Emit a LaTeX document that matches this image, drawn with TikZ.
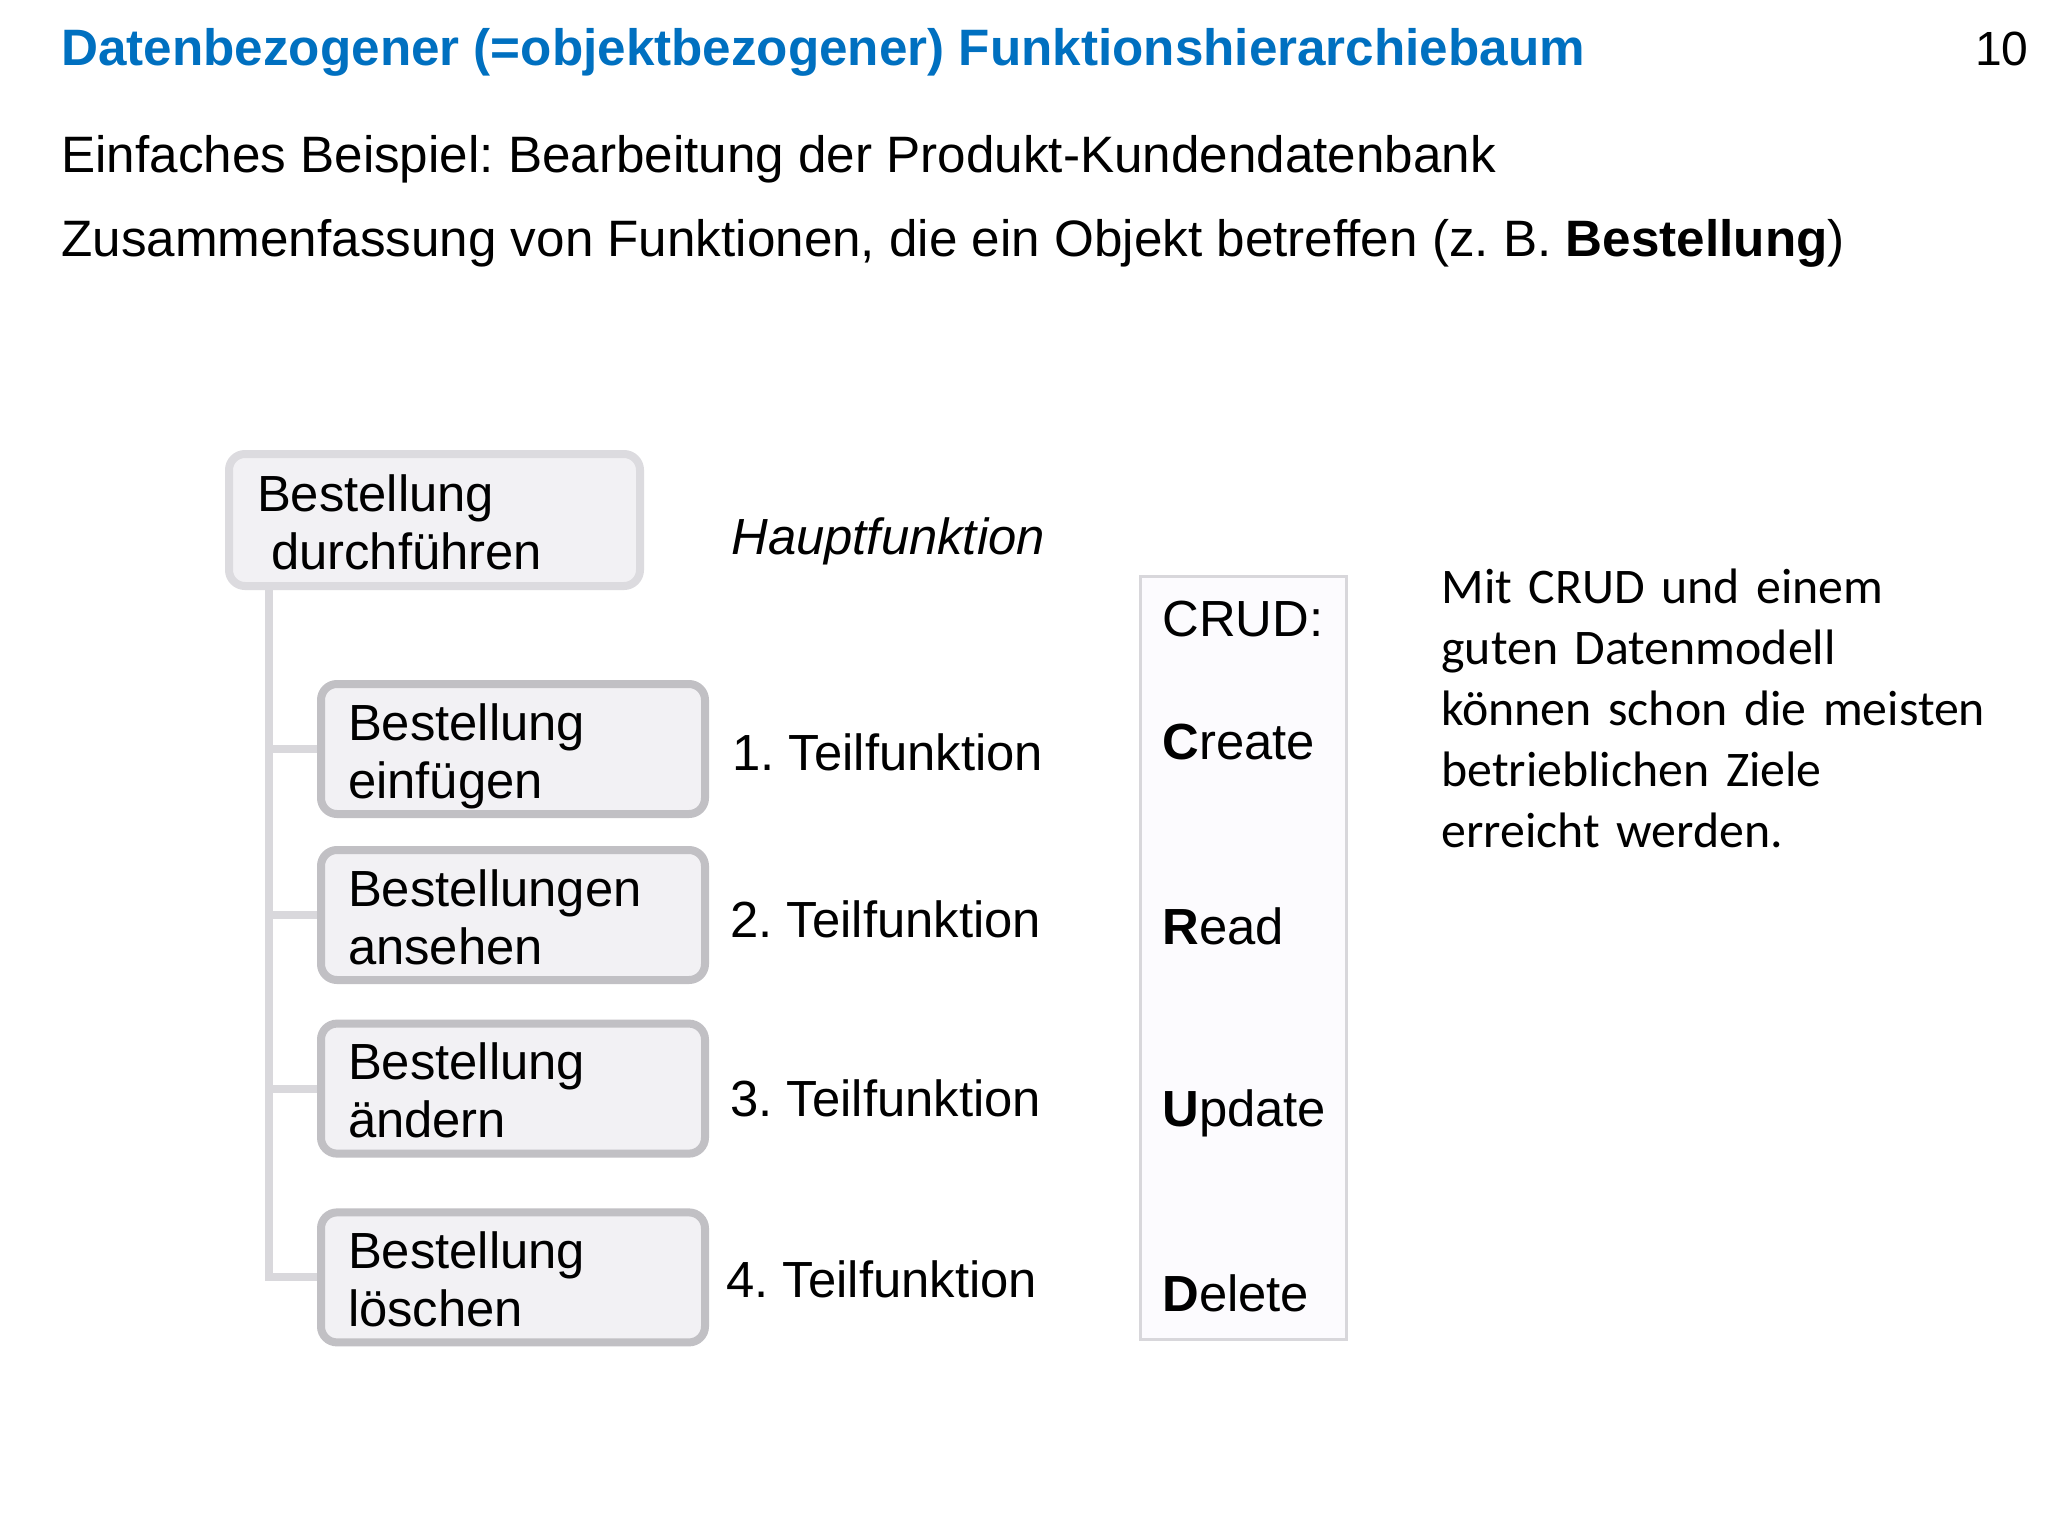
\documentclass[tikz,border=0pt]{standalone}
\usepackage{fontspec}
\setmainfont{Liberation Sans}
\newfontfamily\calibfont{Carlito}
\definecolor{titleblue}{HTML}{0070C0}
\definecolor{topline}{HTML}{DCDBDF}
\definecolor{boxline}{HTML}{C1C0C4}
\definecolor{boxfill}{HTML}{F2F1F4}
\definecolor{connline}{HTML}{D9D8DC}
\definecolor{crudline}{HTML}{D8D7DB}
\definecolor{crudfill}{HTML}{FCFBFE}
\frenchspacing
\begin{document}
\begin{tikzpicture}[x=1pt,y=-1pt,
  fs/.style={font=\fontsize{25.4}{29}\selectfont},
  txt/.style={anchor=base west, inner sep=0pt, fs},
  head/.style={anchor=base west, inner sep=0pt},
  fbox/.style={draw=boxline, fill=boxfill, line width=4pt, rounded corners=8pt,
    align=left, fs, inner xsep=13.5pt, inner ysep=0pt, text width=165pt,
    minimum width=192pt, minimum height=65pt, text height=20pt, text depth=29pt},
  conn/.style={draw=connline, line width=4pt}
]
\useasboundingbox (0,0) rectangle (1024,768);
\fill[white] (0,0) rectangle (1024,768);

% headings
\node[head, text=titleblue, font=\fontsize{25.6}{30}\selectfont\bfseries] (title) at (30.5,33)
  {Datenbezogener (=objektbezogener) Funktionshierarchiebaum};
\node[anchor=base east, inner sep=0pt, font=\fontsize{24}{28}\selectfont] (page) at (1014.5,33) {10};
\node[head, font=\fontsize{25.6}{30}\selectfont] (sub1) at (30.5,86)
  {Einfaches Beispiel: Bearbeitung der Produkt-Kundendatenbank};
\node[head, font=\fontsize{25.6}{30}\selectfont] (sub2) at (30.5,128)
  {Zusammenfassung von Funktionen, die ein Objekt betreffen (z. B. \textbf{Bestellung})};

% tree connectors
\coordinate (spine) at (134.5,293);
\coordinate (b1c) at (256.5,374.5);
\coordinate (b2c) at (256.5,457.5);
\coordinate (b3c) at (256.5,544.3);
\coordinate (b4c) at (256.5,638.7);
\coordinate (b4w) at (160.5,638.7);
\draw[conn] (spine) |- (b4w);
\draw[conn] (spine |- b1c) -- (b1c);
\draw[conn] (spine |- b2c) -- (b2c);
\draw[conn] (spine |- b3c) -- (b3c);

% boxes
\node[fbox, draw=topline, text width=177.5pt, minimum width=205.5pt, inner xsep=14pt, minimum height=66pt]
  (top) at (217.25,260) {Bestellung\\\hspace*{7pt}durchführen};
\node[fbox] (b1) at (b1c) {Bestellung\\einfügen};
\node[fbox] (b2) at (b2c) {Bestellungen\\ansehen};
\node[fbox] (b3) at (b3c) {Bestellung\\ändern};
\node[fbox] (b4) at (b4c) {Bestellung\\löschen};

% labels
\node[txt, font=\fontsize{25.4}{29}\selectfont\itshape] (lh) at (365.5,277) {Hauptfunktion};
\node[txt] (l1) at (366,385) {1. Teilfunktion};
\node[txt] (l2) at (365,468.5) {2. Teilfunktion};
\node[txt] (l3) at (365,558) {3. Teilfunktion};
\node[txt] (l4) at (363,648.5) {4. Teilfunktion};

% CRUD box
\node[draw=crudline, fill=crudfill, line width=1.5pt, minimum width=103pt, minimum height=381.5pt, inner sep=0pt]
  (crud) at (621.75,479) {};
\node[txt] (crudh) at (581,318) {CRUD:};
\node[txt] (cc) at (581,379.5) {\textbf{C}reate};
\node[txt] (cr) at (581,472) {\textbf{R}ead};
\node[txt] (cu) at (581,563) {\textbf{U}pdate};
\node[txt] (cd) at (581,655.5) {\textbf{D}elete};

% note
\node[anchor=base west, inner sep=0pt, align=left, text width=300pt,
  font=\calibfont\fontsize{24.9}{30.5}\selectfont] (note) at (720.5,301.5)
  {Mit CRUD und einem\\guten Datenmodell\\können schon die meisten\\betrieblichen Ziele\\erreicht werden.};
\end{tikzpicture}
\end{document}
